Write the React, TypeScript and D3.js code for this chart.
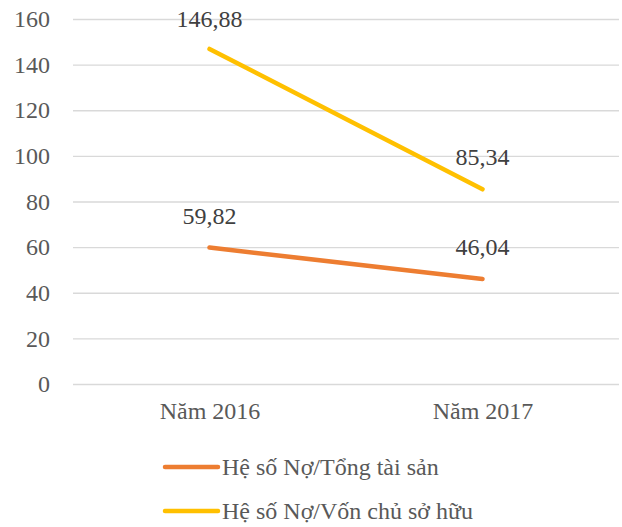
import React, { useEffect, useRef } from 'react';
import * as d3 from 'd3';

const categories = ['Năm 2016', 'Năm 2017'];
const seriesNames = ['Hệ số Nợ/Tổng tài sản', 'Hệ số Nợ/Vốn chủ sở hữu'];
const debtToAssets = [59.82, 46.04];
const debtToEquity = [146.88, 85.34];
const yTicks = [0, 20, 40, 60, 80, 100, 120, 140, 160];
const colors = ['#ED7D31', '#FFC000'];

function App() {
  const svgRef = useRef(null);

  useEffect(() => {
    const width = 622;
    const height = 527;
    const plot = { left: 73, right: 619, top: 19, bottom: 384 };
    const font = '"Liberation Serif", "Times New Roman", serif';

    const svg = d3.select(svgRef.current).attr('width', width).attr('height', height);
    svg.selectAll('*').remove();

    const xScale = d3
      .scalePoint()
      .domain(categories)
      .range([plot.left, plot.right])
      .padding(0.5);

    const yScale = d3.scaleLinear().domain([0, 160]).range([plot.bottom, plot.top]);

    // gridlines + y labels
    const yAxis = svg
      .append('g')
      .call(
        d3
          .axisLeft(yScale)
          .tickValues(yTicks)
          .tickSize(-(plot.right - plot.left))
          .tickPadding(23)
          .tickFormat((d) => String(d))
      )
      .attr('transform', `translate(${plot.left},0)`);
    yAxis.select('.domain').remove();
    yAxis.selectAll('line').attr('stroke', '#d9d9d9').attr('stroke-width', 1.3);
    yAxis
      .selectAll('text')
      .attr('fill', '#595959')
      .style('font-family', font)
      .style('font-size', '24px');

    // x labels
    const xAxis = svg
      .append('g')
      .attr('transform', `translate(0,${plot.bottom})`)
      .call(d3.axisBottom(xScale).tickSize(0).tickPadding(18));
    xAxis.select('.domain').remove();
    xAxis
      .selectAll('text')
      .attr('fill', '#595959')
      .style('font-family', font)
      .style('font-size', '24px');

    const series = [debtToAssets, debtToEquity];
    const line = d3
      .line()
      .x((d, i) => xScale(categories[i]))
      .y((d) => yScale(d));

    series.forEach((values, s) => {
      svg
        .append('path')
        .datum(values)
        .attr('d', line)
        .attr('fill', 'none')
        .attr('stroke', colors[s])
        .attr('stroke-width', 4.5)
        .attr('stroke-linecap', 'round');

      svg
        .selectAll(`.label-${s}`)
        .data(values)
        .enter()
        .append('text')
        .attr('x', (d, i) => xScale(categories[i]))
        .attr('y', (d) => Math.max(yScale(d) - 24, 27))
        .attr('text-anchor', 'middle')
        .attr('fill', '#404040')
        .style('font-family', font)
        .style('font-size', '24px')
        .text((d) => d.toFixed(2).replace('.', ','));
    });

    // legend
    const legend = svg.append('g');
    seriesNames.forEach((name, s) => {
      const y = 467 + s * 44;
      legend
        .append('line')
        .attr('x1', 165)
        .attr('x2', 218)
        .attr('y1', y)
        .attr('y2', y)
        .attr('stroke', colors[s])
        .attr('stroke-width', 4.5)
        .attr('stroke-linecap', 'round');
      legend
        .append('text')
        .attr('x', 222)
        .attr('y', y + 8)
        .attr('fill', '#595959')
        .style('font-family', font)
        .style('font-size', '24px')
        .text(name);
    });
  }, []);

  return <svg ref={svgRef} style={{ position: 'absolute', left: 0, top: 0, display: 'block' }} />;
}

export default App;
